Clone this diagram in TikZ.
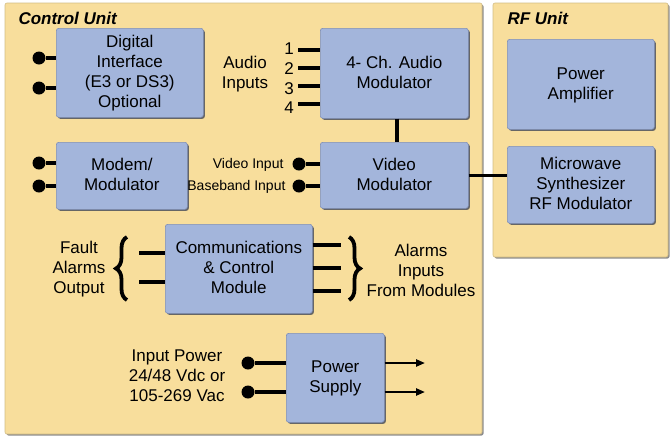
\documentclass[tikz,border=0pt]{standalone}
\usepackage{fontspec}
\setmainfont{Liberation Sans}
\usetikzlibrary{arrows.meta, positioning, shadows, decorations.pathreplacing}

\definecolor{panelfill}{HTML}{F8DE9C}
\definecolor{boxfill}{HTML}{A3B5DB}
\definecolor{boxline}{HTML}{7F8FB8}

\begin{document}
\begin{tikzpicture}[x=1pt, y=-1pt,
    panel/.style={fill=panelfill, draw=panelfill!85!black, line width=0.6pt, rounded corners=2pt,
        drop shadow={shadow xshift=1.5pt, shadow yshift=-1.5pt, fill=black!45, opacity=1}},
    blk/.style={draw=boxline, fill=boxfill, line width=0.6pt, rounded corners=2.5pt, anchor=north west,
        align=center, font=\fontsize{17}{20}\selectfont, text depth=2pt,
        drop shadow={shadow xshift=1.5pt, shadow yshift=-1.5pt, fill=black!60, opacity=1}},
    title/.style={font=\fontsize{17}{20}\selectfont\bfseries\itshape, anchor=base west},
    lbl/.style={align=center, font=\fontsize{17}{20}\selectfont},
    small/.style={font=\fontsize{14}{16}\selectfont, anchor=east},
    dot/.style={circle, fill=black, inner sep=0pt, minimum size=13pt},
    wire/.style={line width=3.4pt},
    brace/.style={line width=3.8pt, decorate, decoration={brace, amplitude=11pt}},
    pwr/.style={line width=2.4pt, -{Triangle[length=9pt, width=7pt]}}]
    \useasboundingbox (0,0) rectangle (671,437);

    % Panels
    \draw[panel] (5,3) rectangle (482,434);
    \draw[panel] (493,3) rectangle (668,257);
    \node[title] (cutitle) at (15,24) {Control Unit};
    \node[title] (rftitle) at (504,24) {RF Unit};

    % Blocks
    \node[blk, minimum width=147, minimum height=89] (digital) at (56,28) {Digital\\Interface\\(E3 or DS3)\\Optional};
    \node[blk, minimum width=148, minimum height=90] (audio) at (320,28) {4- Ch. Audio\\Modulator};
    \node[blk, minimum width=131, minimum height=67] (modem) at (56,142) {Modem/\\Modulator};
    \node[blk, minimum width=148, minimum height=66] (video) at (320,142) {Video\\Modulator};
    \node[blk, minimum width=147, minimum height=89] (comms) at (165,224) {Communications\\\& Control\\Module};
    \node[blk, minimum width=98, minimum height=89] (supply) at (286,333) {Power\\Supply};
    \node[blk, minimum width=147, minimum height=90] (amp) at (507,39) {Power\\Amplifier};
    \node[blk, minimum width=147, minimum height=77] (micro) at (507,146) {Microwave\\Synthesizer\\RF Modulator};

    % Digital interface inputs
    \node[dot] (di1) at (39,58) {};
    \node[dot] (di2) at (39,88) {};
    \draw[wire] (di1) -- (di1 -| digital.west);
    \draw[wire] (di2) -- (di2 -| digital.west);

    % Modem inputs
    \node[dot] (mo1) at (39,163) {};
    \node[dot] (mo2) at (39,186) {};
    \draw[wire] (mo1) -- (mo1 -| modem.west);
    \draw[wire] (mo2) -- (mo2 -| modem.west);

    % Audio inputs
    \node[lbl] (audiolbl) at (245,74) {Audio\\Inputs};
    \foreach \n/\y/\ty in {1/50/49, 2/68/69, 3/86/89, 4/104/108} {
        \coordinate (a\n) at (298,\y);
        \node[lbl] (an\n) at (289,\ty) {\n};
        \draw[wire] (a\n) -- (a\n -| audio.west);
    }
    \draw[wire] (audio.south -| 397,0) -- (video.north -| 397,0);

    % Video inputs
    \node[dot] (vi1) at (299,164) {};
    \node[dot] (vi2) at (299,186) {};
    \node[small] (vilbl) at (287,165) {Video Input};
    \node[small] (bblbl) at (289,187) {Baseband Input};
    \draw[wire] (vi1) -- (vi1 -| video.west);
    \draw[wire] (vi2) -- (vi2 -| video.west);
    \draw[wire] (video.east) -- (video.east -| micro.west);

    % Alarms
    \node[lbl] (fault) at (79,269) {Fault\\Alarms\\Output};
    \draw[brace] (127,300) -- (127,237);
    \foreach \n/\y in {1/253, 2/282} {
        \coordinate (fo\n) at (139,\y);
        \draw[wire] (fo\n) -- (fo\n -| comms.west);
    }
    \foreach \n/\y in {1/245, 2/268, 3/291} {
        \coordinate (ai\n) at (341,\y);
        \draw[wire] (ai\n -| comms.east) -- (ai\n);
    }
    \draw[brace] (349,237) -- (349,300);
    \node[lbl] (alarms) at (421,270) {Alarms\\Inputs\\From Modules};

    % Power
    \node[lbl] (inpower) at (177,376) {Input Power\\24/48 Vdc or\\105-269 Vac};
    \node[dot] (pw1) at (248,363) {};
    \node[dot] (pw2) at (248,392) {};
    \draw[wire] (pw1) -- (pw1 -| supply.west);
    \draw[wire] (pw2) -- (pw2 -| supply.west);
    \coordinate (po1) at (425,363);
    \coordinate (po2) at (425,392);
    \draw[pwr] (po1 -| supply.east) -- (po1);
    \draw[pwr] (po2 -| supply.east) -- (po2);
\end{tikzpicture}
\end{document}
